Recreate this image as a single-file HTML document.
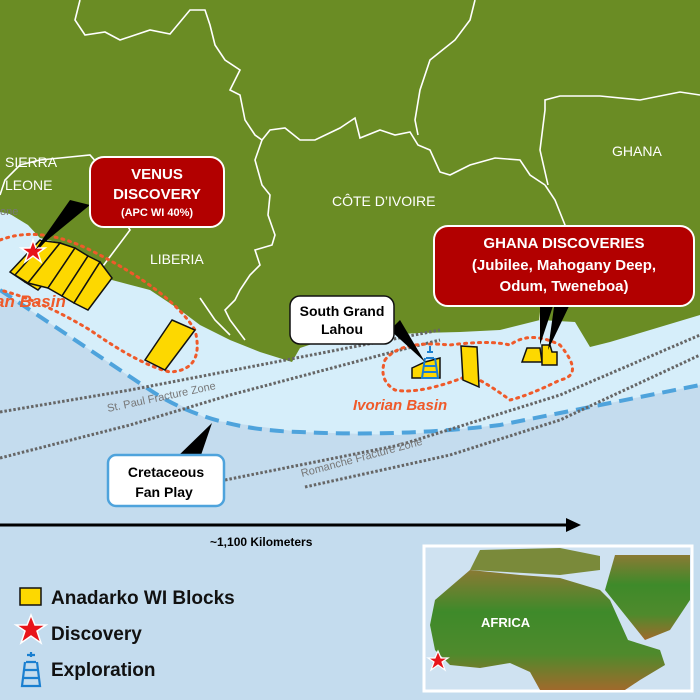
<!DOCTYPE html>
<html><head><meta charset="utf-8"><style>
html,body{margin:0;padding:0;background:#c4dcee}
svg{display:block}
text{font-family:"Liberation Sans",Arial,sans-serif}
</style></head><body>
<svg width="700" height="700" viewBox="0 0 700 700" xmlns="http://www.w3.org/2000/svg">
<rect width="700" height="700" fill="#c4dcee"/>
<path d="M0,200 L700,200 L700,385 L600,405 L500,425 L400,435 L300,432 L210,420 L150,390 L60,330 L0,290 Z" fill="#d6eefa"/>
<path d="M0,0 H700 V315 L650,330 L610,342 L590,347 L575,322 L540,320 L500,330 L460,332 L420,333 L380,335 L330,338 L300,348 L292,362 L260,352 L230,340 L200,325 L180,310 L150,290 L112,280 L100,265 L87,258 L75,248 L60,243 L40,238 L28,225 L10,214 L0,212 Z" fill="#6a8c24"/>
<g fill="none" stroke="#fff" stroke-width="1.6">
<path d="M80,0 L75,20 L85,35 L105,32 L120,40 L150,30 L170,34 L190,10 L205,10 L210,25 L215,45 L225,60 L240,70 L230,90 L240,95 L245,120 L255,135 L262,140 L270,130 L285,128 L300,140 L315,140 L340,128 L355,118 L360,138 L380,130 L395,135 L410,132 L418,145 L430,150 L440,172 L450,175 L470,165 L495,158 L520,160 L530,175 L545,185"/>
<path d="M0,195 L5,180 L20,165 L40,160 L70,157 L90,155 L105,172 L112,190 L118,210 L130,230 L100,270"/>
<path d="M262,140 L255,160 L262,185 L270,195 L268,215 L275,235 L272,245 L255,250 L260,265 L250,275 L240,290 L235,300 L225,310 L230,320 L245,340"/>
<path d="M418,135 L415,120 L420,90 L430,60 L455,40 L470,20 L475,0"/>
<path d="M545,185 L555,200 L565,225 L560,245 L548,265 L543,290 L540,320"/>
<path d="M548,185 L540,150 L545,110 L545,100 L560,96 L600,96 L640,100 L680,92 L700,95"/>
<path d="M200,298 L215,320 L230,335"/>
</g>
<path d="M0,290 L60,330 L150,390 Q210,430 300,432 Q400,437 500,425 L600,405 L700,385" fill="none" stroke="#4ea3dc" stroke-width="4" stroke-dasharray="14,8"/>
<g fill="none" stroke="#666" stroke-width="3" stroke-dasharray="2.5,2">
<path d="M0,412 L130,390 L260,365 L440,330"/>
<path d="M0,458 L130,425 L230,395 L400,350 L440,340"/>
<path d="M225,480 L400,445 L560,395 L700,335"/>
<path d="M305,487 L450,455 L560,420 L700,355"/>
</g>
<text x="108" y="412" font-size="11" fill="#777" transform="rotate(-12 108 412)">St. Paul Fracture Zone</text>
<text x="302" y="477" font-size="11" fill="#777" transform="rotate(-15 302 477)">Romanche Fracture Zone</text>
<text x="0" y="215" font-size="11" fill="#777">one</text>
<g fill="none" stroke="#ef5a2a" stroke-width="3" stroke-dasharray="2,5" stroke-linecap="round">
<path d="M0,240 Q40,225 90,250 Q170,290 195,330 Q205,370 170,372 Q140,365 90,330 Q40,300 0,290"/>
<path d="M385,360 Q400,340 450,345 Q490,340 510,345 Q530,330 560,345 Q585,375 560,380 Q530,395 510,400 Q490,385 470,375 Q420,395 395,390 Q378,380 385,360 Z"/>
</g>
<text x="-5" y="307" font-size="17" font-weight="bold" font-style="italic" fill="#ef5a2a">an Basin</text>
<text x="353" y="410" font-size="15" font-weight="bold" font-style="italic" fill="#ef5a2a">Ivorian Basin</text>
<g fill="#fdd800" stroke="#111" stroke-width="1.5">
<path d="M40,240 L10,272 L25,282 L55,248 Z"/>
<path d="M55,245 L25,282 L38,290 L72,252 Z"/>
<path d="M45,241 L60,243 L28,283 L15,275 Z"/>
<path d="M60,243 L75,248 L48,288 L28,283 Z"/>
<path d="M75,248 L88,256 L62,296 L48,288 Z"/>
<path d="M88,256 L100,262 L74,303 L62,296 Z"/>
<path d="M100,262 L112,278 L88,310 L74,303 Z"/>
<path d="M172,320 L195,330 L165,370 L145,360 Z"/>
<path d="M412,368 L425,362 L440,358 L440,378 L412,378 Z"/>
<path d="M461,346 L477,347 L479,387 L463,380 Z"/>
<path d="M527,348 L540,348 L542,362 L522,362 Z"/>
<path d="M542,345 L550,345 L552,352 L557,352 L557,365 L542,365 Z"/>
</g>
<polygon points="33,240 36,248 45,248 38,253 41,262 33,256 25,262 28,253 21,248 30,248" fill="#e8141a" stroke="#fff" stroke-width="1.5"/>
<g fill="none" stroke="#1a7fd0" stroke-width="2">
<path d="M427,352 h6 M430,346 v6 M426,358 h8 M425,358 l-3,20 h16 l-3,-20 M424,366 h12 M423,372 h14"/>
</g>
<path d="M70,200 L90,205 L35,250 Z" fill="#000"/>
<path d="M390,330 L400,320 L425,362 Z" fill="#000"/>
<path d="M540,300 L555,300 L540,345 Z" fill="#000"/>
<path d="M555,300 L572,300 L548,350 Z" fill="#000"/>
<path d="M176,458 L200,458 L212,423 Z" fill="#000"/>
<rect x="90" y="157" width="134" height="70" rx="14" fill="#b20000" stroke="#fff" stroke-width="2"/>
<text x="157" y="179" font-size="15" font-weight="bold" fill="#fff" text-anchor="middle">VENUS</text>
<text x="157" y="199" font-size="15" font-weight="bold" fill="#fff" text-anchor="middle">DISCOVERY</text>
<text x="157" y="216" font-size="11" font-weight="bold" fill="#fff" text-anchor="middle">(APC WI 40%)</text>
<rect x="434" y="226" width="260" height="80" rx="14" fill="#b20000" stroke="#fff" stroke-width="2"/>
<text x="564" y="248" font-size="15" font-weight="bold" fill="#fff" text-anchor="middle">GHANA DISCOVERIES</text>
<text x="564" y="270" font-size="15" font-weight="bold" fill="#fff" text-anchor="middle">(Jubilee,  Mahogany Deep,</text>
<text x="564" y="291" font-size="15" font-weight="bold" fill="#fff" text-anchor="middle">Odum, Tweneboa)</text>
<rect x="290" y="296" width="104" height="48" rx="10" fill="#fff" stroke="#111" stroke-width="1.5"/>
<text x="342" y="316" font-size="14" font-weight="bold" fill="#000" text-anchor="middle">South Grand</text>
<text x="342" y="334" font-size="14" font-weight="bold" fill="#000" text-anchor="middle">Lahou</text>
<rect x="108" y="455" width="116" height="51" rx="8" fill="#fff" stroke="#4ea3dc" stroke-width="2.5"/>
<text x="166" y="477" font-size="14" font-weight="bold" fill="#000" text-anchor="middle">Cretaceous</text>
<text x="164" y="497" font-size="14" font-weight="bold" fill="#000" text-anchor="middle">Fan Play</text>
<g fill="#fff" font-size="14">
<text x="5" y="167">SIERRA</text>
<text x="5" y="190">LEONE</text>
<text x="150" y="264">LIBERIA</text>
<text x="332" y="206">CÔTE D’IVOIRE</text>
<text x="612" y="156">GHANA</text>
</g>
<line x1="0" y1="525" x2="568" y2="525" stroke="#000" stroke-width="3"/>
<polygon points="566,518 581,525 566,532" fill="#000"/>
<text x="210" y="546" font-size="12" font-weight="bold" fill="#000">~1,100 Kilometers</text>
<rect x="20" y="588" width="21" height="17" fill="#fdd800" stroke="#111" stroke-width="1.5"/>
<text x="51" y="604" font-size="19" font-weight="bold" fill="#111">Anadarko WI Blocks</text>
<polygon points="31,615 35,625 46,625 37,631 41,643 31,636 21,643 25,631 16,625 27,625" fill="#e8141a" stroke="#fff" stroke-width="1.5"/>
<text x="51" y="640" font-size="19" font-weight="bold" fill="#111">Discovery</text>
<g fill="none" stroke="#1a7fd0" stroke-width="2.2">
<path d="M27,655 h8 M31,652 v5 M26,662 h10 M25,662 l-3,24 h18 l-3,-24 M24,670 h14 M23,678 h16"/>
</g>
<text x="51" y="676" font-size="19" font-weight="bold" fill="#111">Exploration</text>
<rect x="424" y="546" width="268" height="145" fill="#cfe2f1" stroke="#fff" stroke-width="3"/>
<defs><linearGradient id="af" x1="0" y1="0" x2="0" y2="1"><stop offset="0" stop-color="#8a7a34"/><stop offset="0.35" stop-color="#3e8a2a"/><stop offset="0.7" stop-color="#4f8a2c"/><stop offset="1" stop-color="#a06a2c"/></linearGradient></defs>
<path d="M435,600 L470,570 L520,575 L560,578 L600,590 L610,600 L628,640 L660,650 L665,665 L640,680 L625,690 L540,690 L530,672 L510,663 L480,668 L450,665 L435,650 L430,625 Z" fill="url(#af)"/>
<path d="M605,590 L615,555 L690,555 L690,600 L670,630 L645,640 L625,615 Z" fill="url(#af)"/>
<path d="M470,570 L480,550 L560,548 L600,556 L600,570 L560,575 Z" fill="#7a8a3a"/>
<text x="481" y="627" font-size="13" font-weight="bold" fill="#fff">AFRICA</text>
<polygon points="438,651 441,658 448,658 442,662 445,670 438,665 431,670 434,662 428,658 435,658" fill="#e8141a" stroke="#fff" stroke-width="1.2"/>
</svg>
</body></html>
